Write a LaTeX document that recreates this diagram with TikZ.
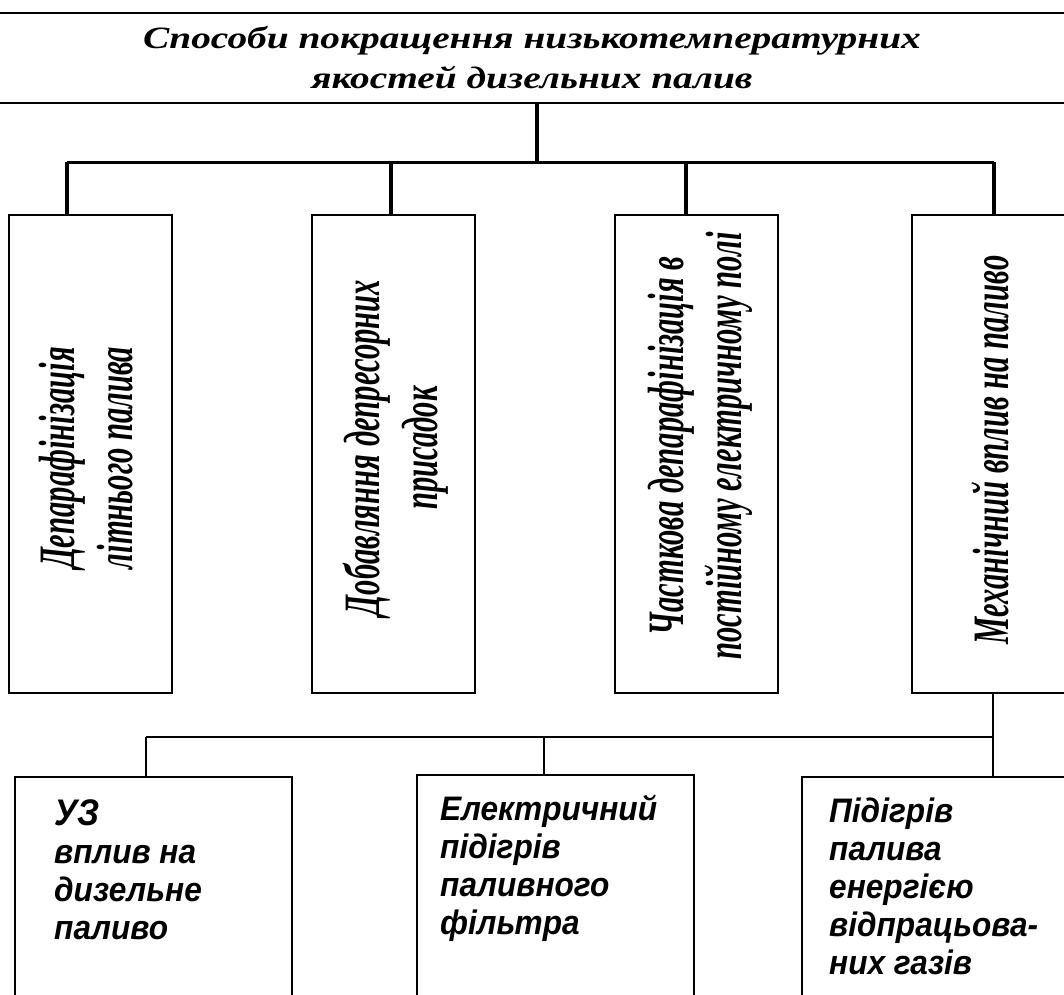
\documentclass[tikz,border=0pt]{standalone}
\usepackage{fontspec}
\setmainfont{Liberation Serif}
\newfontfamily\topserif[FakeStretch=1.27]{Liberation Serif}
\newfontfamily\vserif[FakeStretch=0.6]{Liberation Serif}
\newfontfamily\bsans[FakeStretch=0.93]{Liberation Sans}
\begin{document}
\begin{tikzpicture}[x=1pt,y=-1pt,
  box/.style={draw, line width=2pt, inner sep=0pt},
  topbox/.style={draw, line width=2.5pt, inner sep=0pt, minimum width=1080pt, minimum height=90pt,
    align=center, font=\topserif\bfseries\itshape\fontsize{31}{40}\selectfont},
  upbox/.style={box, minimum width=163pt, minimum height=478pt},
  lowbox/.style={box, minimum width=277pt, minimum height=240pt},
  vtext/.style={rotate=90, align=center, inner sep=0pt,
    font=\vserif\bfseries\itshape\fontsize{51}{58}\selectfont},
  btext/.style={anchor=north west, align=left, inner sep=0pt,
    font=\bsans\bfseries\itshape\fontsize{34}{38}\selectfont},
  upconn/.style={line width=4pt},
  uphor/.style={line width=3pt},
  loconn/.style={line width=2pt}]
\useasboundingbox (0,0) rectangle (1064,994);

% top box
\node[topbox] (top) at (532,58) {Способи покращення низькотемпературних\\якостей дизельних палив};

% upper boxes
\node[upbox] (b1) at (90.5,454) {};
\node[upbox] (b2) at (393,454) {};
\node[upbox] (b3) at (696,454) {};
\node[upbox] (b4) at (993.5,454) {};

\node[vtext] (t1) at (86,458) {Депарафінізація\\літнього палива};
\node[vtext] (t2) at (396,448) {Добавляння депресорних\\присадок};
\node[vtext] (t3) at (700,446) {Часткова депарафінізація в\\постійному електричному полі};
\node[vtext] (t4) at (990,450) {Механічний вплив на паливо};

% upper connectors
\coordinate (j0) at (537,162);
\coordinate (j1) at (67,162);
\coordinate (j2) at (391,162);
\coordinate (j3) at (686,162);
\coordinate (j4) at (994,162);
\draw[upconn] (top.south -| j0) -- (j0);
\draw[uphor] (j1) -- (j4);
\draw[upconn] (j1) -- (j1 |- b1.north);
\draw[upconn] (j2) -- (j2 |- b2.north);
\draw[upconn] (j3) -- (j3 |- b3.north);
\draw[upconn] (j4) -- (j4 |- b4.north);

% lower boxes
\node[lowbox, anchor=north west] (l1) at (14,776) {};
\node[lowbox, anchor=north west] (l2) at (416,774) {};
\node[lowbox, anchor=north west] (l3) at (801,776) {};

\node[btext] (s1) at (54,799) {{\fontsize{37}{38}\selectfont УЗ}\\вплив на\\дизельне\\паливо};
\node[btext] (s2) at (440,795) {Електричний\\підігрів\\паливного\\фільтра};
\node[btext] (s3) at (829,798) {Підігрів\\палива\\енергією\\відпрацьова-\\них газів};

% lower connectors
\coordinate (k0) at (993,737);
\coordinate (k1) at (146,737);
\coordinate (k2) at (544,737);
\draw[loconn] (k0 |- b4.south) -- (k0 |- l3.north);
\draw[loconn] (k1) -- (k0);
\draw[loconn] (k1) -- (k1 |- l1.north);
\draw[loconn] (k2) -- (k2 |- l2.north);
\end{tikzpicture}
\end{document}
